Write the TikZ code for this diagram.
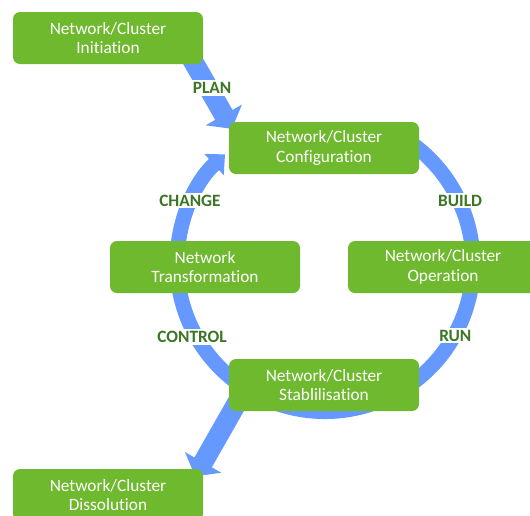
\documentclass[tikz,border=0pt]{standalone}
\usepackage{fontspec}
\setmainfont{Carlito}[Ligatures=NoCommon]
\usetikzlibrary{arrows.meta,positioning}
\definecolor{boxgreen}{RGB}{111,185,46}
\definecolor{verbgreen}{RGB}{58,118,36}
\definecolor{ringblue}{RGB}{102,153,255}
\pgfdeclarelayer{background}
\pgfsetlayers{background,main}
\begin{document}
\begin{tikzpicture}[x=1pt, y=-1pt,
    stage/.style={rectangle, rounded corners=7pt, fill=boxgreen, text=white, minimum width=190pt, minimum height=52pt, inner sep=0pt, align=center, font=\fontsize{17.3}{19.5}\selectfont},
    verb/.style={fill=white, text=verbgreen, inner sep=2pt, font=\fontsize{17.3}{18}\selectfont\bfseries},
    flow/.style={draw=ringblue, line width=20pt, -{Triangle[width=41pt, length=16pt]}},
    ring/.style={draw=ringblue, line width=15pt, -{Triangle[width=28pt, length=15pt]}}]
    \clip (0,0) rectangle (530,515);
    % Etapas
    \node[stage] (init) at (108,38) {Network/Cluster\\Initiation};
    \node[stage] (config) at (324,148) {Network/Cluster\\Configuration};
    \node[stage, below of=config, node distance=237pt] (stab) {Network/Cluster\\Stablilisation};
    \coordinate (hub) at (325,263.5);
    \node[stage, left of=hub, node distance=120pt, yshift=-3.5pt] (transf) {Network\\Transformation};
    \node[stage, right of=hub, node distance=118pt, yshift=-3.5pt] (oper) {Network/Cluster\\Operation};
    \node[stage] (diss) at (108,495) {Network/Cluster\\Dissolution};
    % Fases
    \node[verb] (plan) at (212,88) {PLAN};
    \node[verb] (build) at ([shift={(-25:149)}]hub) {BUILD};
    \node[verb] (run) at ([shift={(29:149)}]hub) {RUN};
    \node[verb] (control) at ([shift={(151:152)}]hub) {CONTROL};
    \node[verb] (change) at ([shift={(205:149)}]hub) {CHANGE};
    % Ciclo
    \begin{pgfonlayer}{background}
        \draw[flow] ([shift={(-21,-22)}]init.south east) -- ([shift={(3,7)}]config.north west);
        \draw[ring] ([shift={(-62:148)}]hub) arc[start angle=-62, end angle=227.5, radius=148];
        \draw[flow] ([shift={(16,-22)}]stab.south west) -- ([shift={(-8,7.5)}]diss.north east);
    \end{pgfonlayer}
\end{tikzpicture}
\end{document}
